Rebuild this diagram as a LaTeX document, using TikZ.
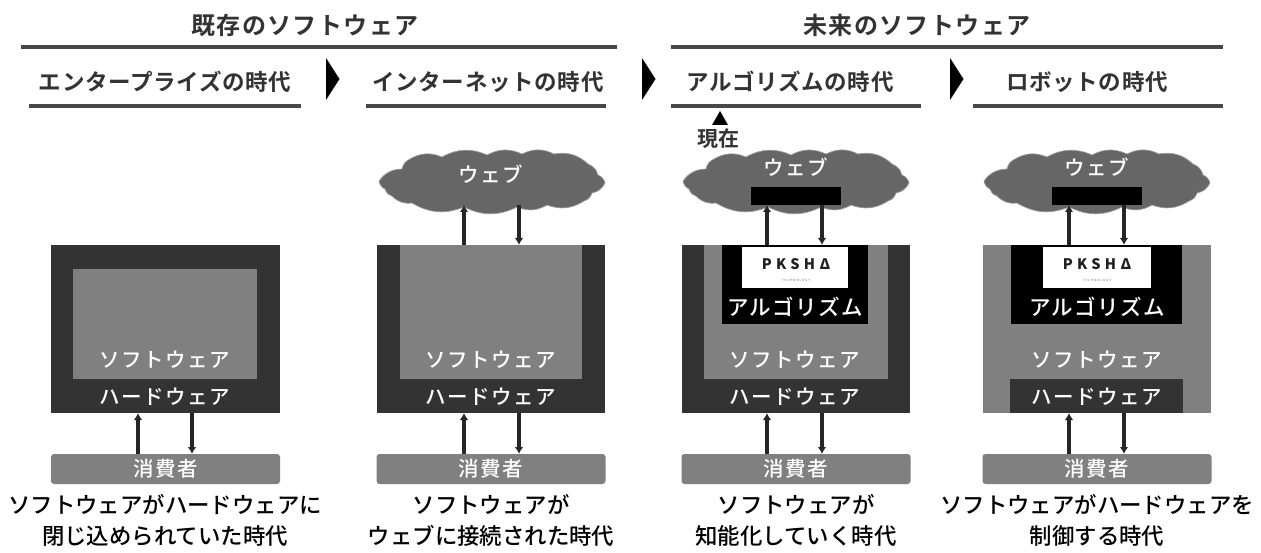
\documentclass[tikz,border=0pt]{standalone}
\usepackage{fontspec}
\usetikzlibrary{arrows.meta}
\newfontfamily\jp{Noto Sans CJK JP Bold}
\newfontfamily\jpc{Noto Sans CJK JP Medium}
\newfontfamily\jpt{Noto Sans CJK JP Bold}[LetterSpace=6]
\newfontfamily\jpe{Noto Sans CJK JP Bold}[LetterSpace=3]
\newfontfamily\jpw{Noto Sans CJK JP Medium}[LetterSpace=7]
\newfontfamily\logo{Noto Sans CJK JP Black}[LetterSpace=30]
\newfontfamily\logs{Noto Sans}[LetterSpace=30]
\definecolor{dk}{HTML}{333333}
\definecolor{md}{HTML}{808080}
\definecolor{cl}{HTML}{666666}
\definecolor{tx}{HTML}{333333}
\tikzset{
 bx/.style={inner sep=0pt,outer sep=0pt,draw=none},
 ttl/.style={font=\jpt\fontsize{24}{26}\selectfont,text=tx,inner sep=0pt},
 era/.style={font=\jpe\fontsize{22.5}{25}\selectfont,text=tx,inner sep=0pt},
 wl/.style={font=\jpw\fontsize{20.5}{22}\selectfont,text=white,inner sep=0pt},
 wlb/.style={font=\jpw\fontsize{21.5}{24}\selectfont,text=white,inner sep=0pt},
 captxt/.style={font=\jpc\fontsize{22.4}{31}\selectfont,text=black,align=center,inner sep=0pt},
 hrule/.style={line width=3.4pt,draw=black!72},
 chev/.style={fill=black,draw=none},
 arw/.style={line width=3.2pt,draw=black!85,-{Latex[length=7pt,width=8.5pt]}},
}
% name, x1,y1,x2,y2, colour
\newcommand{\rbox}[6]{%
 \pgfmathsetmacro{\rw}{#4-#2}\pgfmathsetmacro{\rh}{#5-#3}%
 \pgfmathsetmacro{\rx}{(#4+#2)/2}\pgfmathsetmacro{\ry}{(#5+#3)/2}%
 \node[bx,fill=#6,minimum width=\rw pt,minimum height=\rh pt] (#1) at (\rx,\ry) {};}
\newcommand{\consumer}[3]{%
 \node[bx,fill=md,rounded corners=3pt,minimum width=229pt,minimum height=30pt] (#1) at (#2,469) {};
 \node[wl] (#1t) at (#1) {#3};}
\newcommand{\cloud}[2]{%
 \begin{scope}[shift={(#2,182)},bend left=26]
 \draw[fill=cl,draw=cl!65,line width=0.7pt]
 (-113,-1) to (-90,-13) to (-82,-23) to (-50,-25) to (-5,-27) to (30,-28) to (62,-28) to (96,-18) to (106,-7) to (113,1) to (100,11) to (92,19) to (55,23) to (25,25) to (-28,25) to (-80,21) to (-100,14) to (-107,7) to cycle;
 \coordinate (#1) at (0,0);
 \end{scope}}
\newcommand{\pksha}[2]{%
 \node[font=\logo\fontsize{14.5}{15}\selectfont,text=black!88,inner sep=0pt] (#1a) at (#2,264) {PKSHΔ};
 \node[font=\logs\fontsize{3}{4}\selectfont,text=black!60,inner sep=0pt] (#1b) at (#2,280) {TECHNOLOGY};}
\begin{document}
\begin{tikzpicture}[x=1pt,y=-1pt]
\useasboundingbox (0,0) rectangle (1261,553);
% headings
\node[ttl] (h1) at (305,25) {既存のソフトウェア};
\node[ttl] (h2) at (917,25) {未来のソフトウェア};
\coordinate (h1l) at (21,47); \coordinate (h1r) at (617,47);
\coordinate (h2l) at (671,47); \coordinate (h2r) at (1223,47);
\draw[hrule] (h1l) -- (h1r); \draw[hrule] (h2l) -- (h2r);
\node[era] (e1) at (165,82) {エンタープライズの時代};
\node[era] (e2) at (488,82) {インターネットの時代};
\node[era] (e3) at (790,82) {アルゴリズムの時代};
\node[era] (e4) at (1087,82) {ロボットの時代};
\coordinate (e1l) at (29,106); \coordinate (e1r) at (301,106);
\coordinate (e2l) at (366,106); \coordinate (e2r) at (606,106);
\coordinate (e3l) at (671,106); \coordinate (e3r) at (921,106);
\coordinate (e4l) at (973,106); \coordinate (e4r) at (1223,106);
\draw[hrule] (e1l)--(e1r); \draw[hrule] (e2l)--(e2r); \draw[hrule] (e3l)--(e3r); \draw[hrule] (e4l)--(e4r);
\fill[chev] (326,58) -- (339.5,79) -- (326,100) -- cycle;
\fill[chev] (642,58) -- (655.5,79) -- (642,100) -- cycle;
\fill[chev] (950,58) -- (963.5,79) -- (950,100) -- cycle;
\fill[chev] (720,111) -- (728,125) -- (712,125) -- cycle;
\node[font=\jp\fontsize{21}{22}\selectfont,text=tx,inner sep=0pt] (now) at (718.5,139) {現在};
% column 1
\rbox{hwa}{51}{245}{280}{413}{dk}
\rbox{swa}{73}{269}{257}{379}{md}
\node[wl] at (165,360) {ソフトウェア};
\node[wl] at (165,397) {ハードウェア};
\consumer{ca}{165.5}{消費者}
\draw[arw] (138,0 |- ca.north) -- (138,0 |- hwa.south);
\draw[arw] (192,0 |- hwa.south) -- (192,0 |- ca.north);
\node[captxt] (ta) at (165,520) {ソフトウェアがハードウェアに\\閉じ込められていた時代};
% column 2
\cloud{wb}{492}
\node[wl] at (491,174) {ウェブ};
\rbox{hwb}{377}{245}{605}{413}{dk}
\rbox{swb}{400}{245}{582}{379}{md}
\node[wl] at (491,360) {ソフトウェア};
\node[wl] at (491,397) {ハードウェア};
\consumer{cb}{491}{消費者}
\draw[arw] (464,0 |- hwb.north) -- (464,205);
\draw[arw] (519,205) -- (519,0 |- hwb.north);
\draw[arw] (464,0 |- cb.north) -- (464,0 |- hwb.south);
\draw[arw] (519,0 |- hwb.south) -- (519,0 |- cb.north);
\node[captxt] (tb) at (491,520) {ソフトウェアが\\ウェブに接続された時代};
% column 3
\cloud{wc}{796}
\node[wl] at (796,167) {ウェブ};
\rbox{bc}{751}{187}{841}{205}{black}
\rbox{hwc}{682}{245}{910}{413}{dk}
\rbox{swc}{704}{245}{888}{379}{md}
\rbox{alc}{722}{245}{868}{324}{black}
\rbox{lgc}{742}{247}{848}{288}{white}
\pksha{pc}{796}
\node[wlb] at (795,307) {アルゴリズム};
\node[wl] at (795,360) {ソフトウェア};
\node[wl] at (795,397) {ハードウェア};
\consumer{cc}{796}{消費者}
\draw[arw] (767,0 |- hwc.north) -- (767,0 |- bc.south);
\draw[arw] (822,0 |- bc.south) -- (822,0 |- hwc.north);
\draw[arw] (767,0 |- cc.north) -- (767,0 |- hwc.south);
\draw[arw] (822,0 |- hwc.south) -- (822,0 |- cc.north);
\node[captxt] (tc) at (796,520) {ソフトウェアが\\知能化していく時代};
% column 4
\cloud{wd}{1097}
\node[wl] at (1097,167) {ウェブ};
\rbox{bd}{1052}{187}{1142}{205}{black}
\rbox{swd}{983}{245}{1211}{413}{md}
\rbox{ald}{1011}{245}{1182}{324}{black}
\rbox{lgd}{1043}{247}{1151}{288}{white}
\pksha{pd}{1097}
\node[wlb] at (1097,307) {アルゴリズム};
\node[wl] at (1097,360) {ソフトウェア};
\rbox{hwd}{1010}{379}{1183}{413}{dk}
\node[wl] at (1097,397) {ハードウェア};
\consumer{cd}{1097}{消費者}
\draw[arw] (1069,0 |- swd.north) -- (1069,0 |- bd.south);
\draw[arw] (1124,0 |- bd.south) -- (1124,0 |- swd.north);
\draw[arw] (1069,0 |- cd.north) -- (1069,0 |- swd.south);
\draw[arw] (1124,0 |- swd.south) -- (1124,0 |- cd.north);
\node[captxt] (td) at (1097,520) {ソフトウェアがハードウェアを\\制御する時代};
\end{tikzpicture}
\end{document}
